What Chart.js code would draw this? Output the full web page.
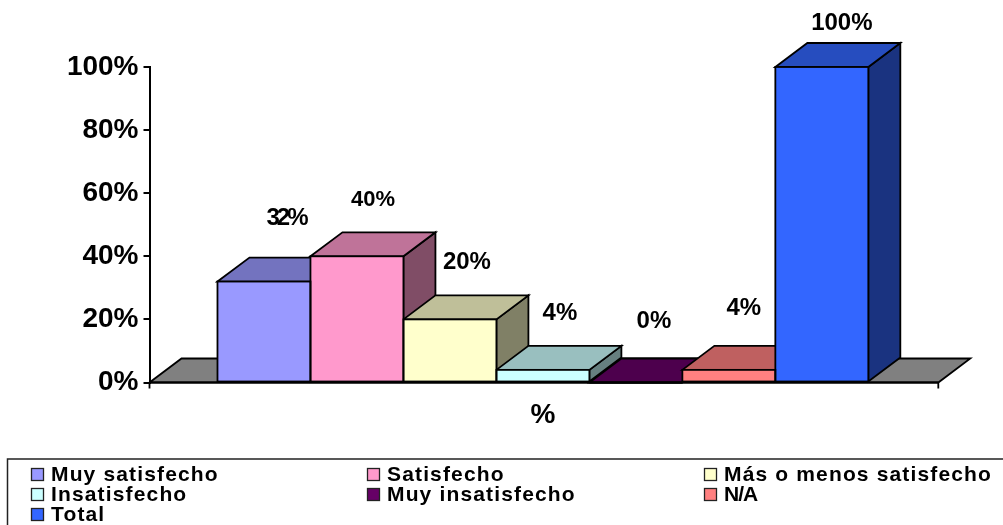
<!DOCTYPE html>
<html><head><meta charset="utf-8">
<style>html,body{margin:0;padding:0;background:#fff}#w{width:1003px;height:525px;position:relative}</style>
<script src="https://cdn.jsdelivr.net/npm/chart.js@4"></script></head>
<body><div id="w"><canvas id="c" width="1003" height="525"></canvas></div>
<script>
const categories = ['%'];
const seriesNames = ['Muy satisfecho','Satisfecho','Más o menos satisfecho','Insatisfecho','Muy insatisfecho','N/A','Total'];
const seriesValues = [32,40,20,4,0,4,100];
const seriesColors = ['#9999FF','#FF99CC','#FFFFCC','#CCFFFF','#660066','#FF8080','#3366FF'];
const yTicks = [0,20,40,60,80,100];
const labelNudges = [[22,-63],[16,-56],[17,-57],[17,-57],[18,-61],[15,-62],[20,-44]];
const labelSizes = [24,22,24,24,24,24,24];
const DX = 32, DY = -24, LW = 1.8, FONT = '"Liberation Sans", Arial, sans-serif';

function shade(hex,f){
  const n=parseInt(hex.slice(1),16);
  return 'rgb('+[(n>>16)&255,(n>>8)&255,n&255].map(v=>Math.round(v*f)).join(',')+')';
}
function poly(ctx,pts,fill){
  ctx.beginPath();pts.forEach((p,i)=>i?ctx.lineTo(p[0],p[1]):ctx.moveTo(p[0],p[1]));ctx.closePath();
  ctx.fillStyle=fill;ctx.fill();ctx.strokeStyle='#000';ctx.lineWidth=LW;ctx.stroke();
}
const threeD = {
  id:'threeD',
  beforeDatasetsDraw(chart){
    const ctx=chart.ctx, x=chart.scales.x, y=chart.scales.y, y0=y.getPixelForValue(0);
    ctx.save();ctx.lineJoin='miter';
    const fr=x.right+2;
    poly(ctx,[[x.left,y0],[x.left+DX,y0+DY],[fr+DX,y0+DY],[fr,y0]],'#808080');
    chart.data.datasets.forEach((ds,i)=>{
      const b=chart.getDatasetMeta(i).data[0].getProps(['x','y','base','width'],true);
      const l=b.x-b.width/2,r=b.x+b.width/2,t=b.y,bs=b.base;
      if(bs-t>0.5) poly(ctx,[[r,t],[r+DX,t+DY],[r+DX,bs+DY],[r,bs]],shade(ds.backgroundColor,0.5));
      poly(ctx,[[l,t],[l+DX,t+DY],[r+DX,t+DY],[r,t]],shade(ds.backgroundColor,0.75));
    });
    ctx.restore();
  },
  afterDatasetsDraw(chart){
    const ctx=chart.ctx, x=chart.scales.x, y=chart.scales.y, y0=y.getPixelForValue(0);
    ctx.save();
    ctx.strokeStyle='#000';ctx.lineWidth=LW;
    chart.data.datasets.forEach((ds,i)=>{
      const b=chart.getDatasetMeta(i).data[0].getProps(['x','y','base','width'],true);
      ctx.strokeRect(b.x-b.width/2,b.y,b.width,b.base-b.y);
    });
    ctx.beginPath();
    ctx.moveTo(x.left,y0);ctx.lineTo(x.right+2,y0);
    ctx.moveTo(x.left,y0);ctx.lineTo(x.left,y0+6);
    ctx.moveTo(x.right+2,y0);ctx.lineTo(x.right+2,y0+6);
    ctx.stroke();
    ctx.fillStyle='#000';ctx.textAlign='center';ctx.textBaseline='middle';
    chart.data.datasets.forEach((ds,i)=>{
      const b=chart.getDatasetMeta(i).data[0].getProps(['x','y'],true);
      const n=labelNudges[i];
      ctx.font='bold '+labelSizes[i]+'px '+FONT;
      ctx.letterSpacing = ds.data[0]===32 ? '-3px':'0px';
      ctx.fillText(ds.data[0]+'%',b.x+n[0],b.y+n[1]);
    });
    ctx.letterSpacing='0px';
    // legend
    ctx.strokeStyle='#222';ctx.lineWidth=1.5;
    ctx.beginPath();ctx.moveTo(7.5,525);ctx.lineTo(7.5,459);ctx.lineTo(1003,459);ctx.stroke();
    const colX=[31,367,704], rowY=[468,488,508];
    ctx.textAlign='left';ctx.textBaseline='middle';ctx.font='bold 21px '+FONT;
    chart.data.datasets.forEach((ds,i)=>{
      const cx=colX[i%3], ry=rowY[Math.floor(i/3)];
      ctx.fillStyle=ds.backgroundColor;ctx.fillRect(cx+.5,ry+.5,12,12);
      ctx.strokeStyle='#222';ctx.lineWidth=1.3;ctx.strokeRect(cx+.5,ry+.5,12,12);
      ctx.fillStyle='#000';ctx.letterSpacing=ds.label==='N/A'?'-1px':'1.15px';
      ctx.fillText(ds.label,cx+20,ry+7);
    });
    ctx.restore();
  }
};
new Chart(document.getElementById('c'),{
  type:'bar',
  plugins:[threeD],
  data:{labels:categories,datasets:seriesNames.map((n,i)=>({label:n,data:[seriesValues[i]],backgroundColor:seriesColors[i],borderWidth:0,clip:false}))},
  options:{
    responsive:false,animation:false,
    layout:{padding:{top:67,right:66.7,left:0,bottom:0}},
    datasets:{bar:{barPercentage:1,categoryPercentage:0.8272}},
    plugins:{legend:{display:false},tooltip:{enabled:false},title:{display:false}},
    scales:{
      x:{
        afterFit(s){s.height=142.5;},
        grid:{display:false},
        border:{display:false},
        ticks:{color:'#000',padding:8,maxRotation:0,font:{family:FONT,weight:'bold',size:28}}
      },
      y:{
        min:0,max:100,
        afterFit(s){s.width=149.5;},
        afterBuildTicks(s){s.ticks=yTicks.map(v=>({value:v}));},
        grid:{drawOnChartArea:false,color:'#000',lineWidth:2,tickLength:6},
        border:{display:true,color:'#000',width:2},
        ticks:{color:'#000',padding:5,callback:v=>v+'%',font:{family:FONT,weight:'bold',size:28}}
      }
    }
  }
});
</script></body></html>
